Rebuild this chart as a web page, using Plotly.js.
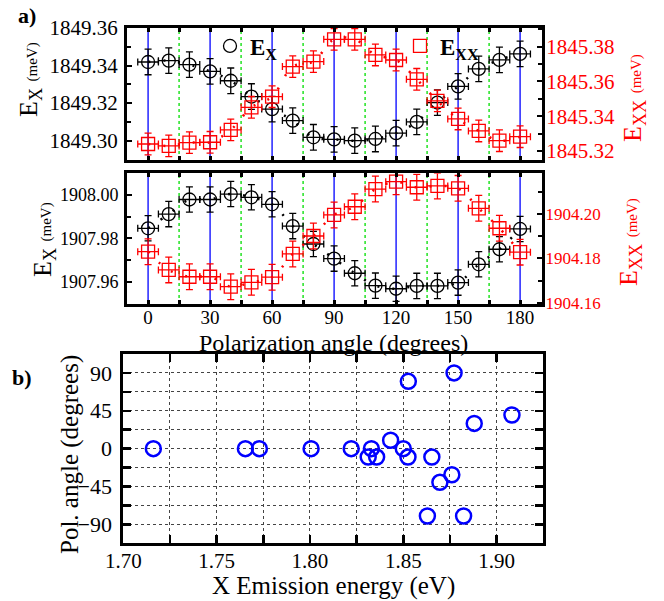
<!DOCTYPE html>
<html>
<head>
<meta charset="utf-8">
<script src="https://cdn.plot.ly/plotly-3.0.1.min.js"></script>
<style>html,body{margin:0;padding:0;background:#fff;}#chart{width:664px;height:601px;}</style>
</head>
<body>
<div id="chart"></div>
<script>
// ---------- data ----------
const angles = [0,10,20,30,40,50,60,70,80,90,100,110,120,130,140,150,160,170,180];
// panel a (top): QD 1
const exTop  = [1849.3419,1849.3426,1849.3405,1849.3369,1849.3319,1849.3235,1849.3168,1849.3107,1849.3018,1849.3007,
                1849.3000,1849.3009,1849.3040,1849.3100,1849.3203,1849.3289,1849.3382,1849.3430,1849.3462];
const exxTop = [1845.3240,1845.3229,1845.3248,1845.3250,1845.3321,1845.3451,1845.3512,1845.3685,1845.3714,1845.3842,
                1845.3842,1845.3752,1845.3723,1845.3612,1845.3488,1845.3384,1845.3315,1845.3259,1845.3282];
// panel a (bottom): QD 2
const exBot  = [1907.9846,1907.9911,1907.9978,1907.9978,1908.0003,1907.9988,1907.9956,1907.9856,1907.9774,1907.9707,
                1907.9640,1907.9583,1907.9569,1907.9582,1907.9582,1907.9597,1907.9681,1907.9750,1907.9843];
const exxBot = [1904.1830,1904.1748,1904.1717,1904.1717,1904.1672,1904.1692,1904.1715,1904.1820,1904.1901,1904.1996,
                1904.2033,1904.2113,1904.2146,1904.2121,1904.2127,1904.2116,1904.2026,1904.1936,1904.1828];
const errExTop = 0.0068, errExxTop = 0.0062, errExBot = 0.0058, errExxBot = 0.0058, errAngle = 5;
// panel b
const emissionEnergy = [1.7161,1.7654,1.7729,1.8006,1.8221,1.8329,1.8312,1.8357,1.8432,1.8500,1.8525,1.8527,
                        1.8629,1.8653,1.8696,1.8760,1.8772,1.8823,1.8880,1.9082];
const polAngle       = [0,0,0,0,0,0,-10,-10,10,0,-10,80,-80,-10,-40,-31,90,-80,30,40];
// reference lines
const solidLines  = [0,30,60,90,120,150,180];
const dottedLines = [15,45,75,105,135,165];

// ---------- helpers ----------
const W = 664, H = 601;
const px = v => v / W;
const py = v => 1 - v / H;
const FONT = 'Liberation Serif, Times New Roman, serif';
const RED = '#ff0000';

function pts(x, y, err, xa, ya, symbol, color) {
  return {
    x: x, y: y, xaxis: xa, yaxis: ya, type: 'scatter', mode: 'markers', showlegend: false,
    marker: {symbol: symbol, size: 13, color: color, line: {color: color, width: 1.3}},
    error_y: {type: 'constant', value: err, color: color, thickness: 1.3, width: 3.5},
    error_x: {type: 'constant', value: errAngle, color: color, thickness: 1.3, width: 3.5},
    hoverinfo: 'skip'
  };
}
function fit(x, y, xa, ya, color) {
  return {x: x, y: y, xaxis: xa, yaxis: ya, type: 'scatter', mode: 'lines', showlegend: false,
    line: {shape: 'spline', color: color, width: 2.5, dash: '2px,13px'}, hoverinfo: 'skip'};
}

const traces = [
  fit(angles, exTop, 'x', 'y', 'black'),
  fit(angles, exxTop, 'x', 'y2', RED),
  pts(angles, exTop, errExTop, 'x', 'y', 'circle-open', 'black'),
  pts(angles, exxTop, errExxTop, 'x', 'y2', 'square-open', RED),
  fit(angles, exBot, 'x2', 'y3', 'black'),
  fit(angles, exxBot, 'x2', 'y4', RED),
  pts(angles, exBot, errExBot, 'x2', 'y3', 'circle-open', 'black'),
  pts(angles, exxBot, errExxBot, 'x2', 'y4', 'square-open', RED),
  {x: emissionEnergy, y: polAngle, xaxis: 'x3', yaxis: 'y5', type: 'scatter', mode: 'markers', showlegend: false,
   marker: {symbol: 'circle-open', size: 15, color: '#0000ff', line: {color: '#0000ff', width: 2.5}}},
  // legend entries
  {x: [null], y: [null], xaxis: 'x', yaxis: 'y', type: 'scatter', mode: 'markers', name: '<b>E<sub>X</sub></b>',
   legend: 'legend', marker: {symbol: 'circle-open', size: 13, color: 'black', line: {color: 'black', width: 1.3}}},
  {x: [null], y: [null], xaxis: 'x', yaxis: 'y', type: 'scatter', mode: 'markers', name: '<b>E<sub>XX</sub></b>',
   legend: 'legend2', marker: {symbol: 'square-open', size: 13, color: RED, line: {color: RED, width: 1.3}}}
];

// ---------- axes ----------
const frame = {showline: true, linecolor: 'black', linewidth: 3, zeroline: false, showgrid: false};
const angleAxis = (dom, labels) => Object.assign({}, frame, {
  domain: dom, range: [-10.2, 190.6], mirror: 'ticks', ticks: 'inside', ticklen: 4, tickwidth: 3,
  tickcolor: 'black', dtick: 30, tick0: 0, showticklabels: labels,
  minor: {dtick: 15, ticks: 'inside', ticklen: 4, tickwidth: 3, tickcolor: 'black'},
  tickfont: {family: FONT, size: 19, color: 'black'}
});
const leftE = (dom, rng, fs, anchor) => Object.assign({}, frame, {
  domain: dom, range: rng, anchor: anchor, mirror: true, ticks: 'inside', ticklen: 5, tickwidth: 2,
  tickcolor: 'black', dtick: 0.02, tickformat: '.2f', ticklabelstandoff: 2,
  minor: {dtick: 0.01, ticks: 'inside', ticklen: 4, tickwidth: 2, tickcolor: 'black'},
  tickfont: {family: FONT, size: fs, color: 'black'}
});
const rightE = (over, rng, fs, anchor) => Object.assign({}, frame, {
  overlaying: over, side: 'right', anchor: anchor, range: rng, ticks: 'inside', ticklen: 5, tickwidth: 2,
  tickcolor: 'black', dtick: 0.02, tickformat: '.2f', ticklabelstandoff: -3,
  minor: {dtick: 0.01, ticks: 'inside', ticklen: 4, tickwidth: 2, tickcolor: 'black'},
  tickfont: {family: FONT, size: fs, color: RED}
});

const domA1 = [py(160), py(28)], domA2 = [py(304), py(173.3)], domB = [py(543.3), py(354)];

// ---------- shapes ----------
const shapes = [];
[['x', 'y domain'], ['x2', 'y3 domain']].forEach(([xr, yr]) => {
  solidLines.forEach(a => shapes.push({type: 'line', xref: xr, yref: yr, x0: a, x1: a, y0: 0, y1: 1,
    layer: 'below', line: {color: '#0000ff', width: 1.3}}));
  dottedLines.forEach(a => shapes.push({type: 'line', xref: xr, yref: yr, x0: a, x1: a, y0: 0, y1: 1,
    layer: 'below', line: {color: '#00dd00', width: 1.3, dash: 'dot'}}));
});

// ---------- annotations ----------
const ann = (text, x, y, size, opts) => Object.assign({text: text, xref: 'paper', yref: 'paper', x: px(x), y: py(y),
  showarrow: false, xanchor: 'center', yanchor: 'middle', font: {family: FONT, size: size, color: 'black'}}, opts || {});
const annotations = [
  ann('<b>a)</b>', 27, 16, 22),
  ann('<b>b)</b>', 22, 377, 22),
  ann('E<sub>X</sub> <span style="font-size:15px">(meV)</span>', 30, 80, 26, {textangle: -90}),
  ann('E<sub>XX</sub> <span style="font-size:15px">(meV)</span>', 634, 98, 26, {textangle: -90, font: {family: FONT, size: 26, color: RED}}),
  ann('E<sub>X</sub> <span style="font-size:15px">(meV)</span>', 44, 240, 26, {textangle: -90}),
  ann('E<sub>XX</sub> <span style="font-size:15px">(meV)</span>', 630, 242, 26, {textangle: -90, font: {family: FONT, size: 26, color: RED}}),
  ann('Polarization angle (degrees)', 333, 343, 24),
  ann('X Emission energy (eV)', 333, 586, 25),
  ann('Pol. angle (degrees)', 70, 455, 25, {textangle: -90})
];

const layout = {
  width: W, height: H, margin: {l: 0, r: 0, t: 0, b: 0},
  paper_bgcolor: 'white', plot_bgcolor: 'white',
  font: {family: FONT, color: 'black'},
  xaxis: angleAxis([px(127), px(542)], false),
  yaxis: leftE(domA1, [1849.2897, 1849.36], 21, 'x'),
  yaxis2: rightE('y', [1845.3148, 1845.3907], 21, 'x'),
  xaxis2: Object.assign(angleAxis([px(127), px(542)], true), {anchor: 'y3', ticklabelstandoff: -6}),
  yaxis3: leftE(domA2, [1907.9499, 1908.0098], 18, 'x2'),
  yaxis4: rightE('y3', [1904.1594, 1904.2184], 17, 'x2'),
  xaxis3: Object.assign({}, frame, {domain: [px(123.3), px(543.3)], anchor: 'y5', range: [1.70, 1.925],
    mirror: 'ticks', ticks: 'inside', ticklen: 8, tickwidth: 2.5, tickcolor: 'black', dtick: 0.05, tick0: 1.70,
    tickformat: '.2f', showgrid: true, gridcolor: '#444', gridwidth: 1, griddash: 'dot', ticklabelstandoff: -4,
    minor: {dtick: 0.025, ticks: 'inside', ticklen: 8, tickwidth: 2.5, tickcolor: 'black', showgrid: true,
            gridcolor: '#444', gridwidth: 1, griddash: 'dot'},
    tickfont: {family: FONT, size: 21, color: 'black'}}),
  yaxis5: Object.assign({}, frame, {domain: domB, anchor: 'x3', range: [-112.5, 112.5],
    mirror: 'ticks', ticks: 'inside', ticklen: 8, tickwidth: 2.5, tickcolor: 'black', dtick: 45, tick0: 0,
    showgrid: true, gridcolor: '#444', gridwidth: 1, griddash: 'dot', ticklabelstandoff: 4,
    minor: {dtick: 22.5, ticks: 'inside', ticklen: 8, tickwidth: 2.5, tickcolor: 'black', showgrid: true,
            gridcolor: '#444', gridwidth: 1, griddash: 'dot'},
    tickfont: {family: FONT, size: 22, color: 'black'}}),
  showlegend: true,
  legend: {x: px(210), y: py(46), xanchor: 'left', yanchor: 'middle', bgcolor: 'rgba(0,0,0,0)',
           font: {family: FONT, size: 23, color: 'black'}, borderwidth: 0},
  legend2: {x: px(400), y: py(46), xanchor: 'left', yanchor: 'middle', bgcolor: 'rgba(0,0,0,0)',
           font: {family: FONT, size: 23, color: 'black'}, borderwidth: 0},
  shapes: shapes,
  annotations: annotations
};

Plotly.newPlot('chart', traces, layout, {displayModeBar: false, staticPlot: true});
</script>
</body>
</html>
